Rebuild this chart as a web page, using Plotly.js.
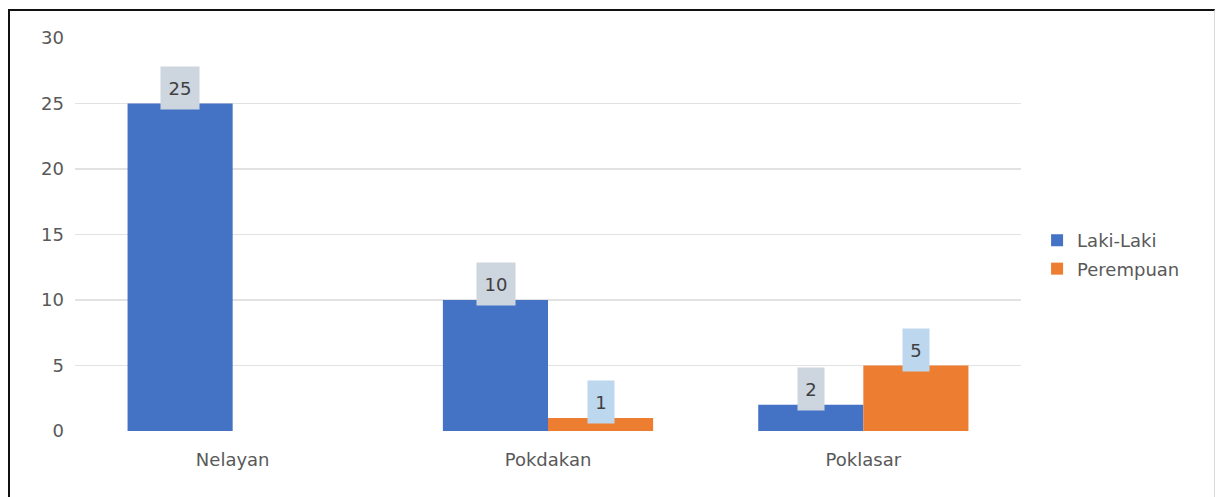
<!DOCTYPE html>
<html>
<head>
<meta charset="utf-8">
<script src="https://cdn.plot.ly/plotly-3.0.1.min.js"></script>
<style>
  html, body { margin: 0; padding: 0; background: #fff; }
  #wrap { position: relative; width: 1216px; height: 497px; overflow: hidden; }
  #frame { position: absolute; left: 8px; top: 9px; width: 1204px; height: 492px;
           border-top: 2px solid #111; border-left: 2px solid #111; border-right: 1px solid #d8d8d8; }
  #chart { position: absolute; left: 0; top: 0; width: 1216px; height: 497px; }
</style>
</head>
<body>
<div id="wrap">
  <div id="frame"></div>
  <div id="chart"></div>
</div>
<script>
const categories = ["Nelayan", "Pokdakan", "Poklasar"];
const lakiLaki = [25, 10, 2];
const perempuan = [null, 1, 5];
const seriesNames = ["Laki-Laki", "Perempuan"];
const yTicks = [0, 5, 10, 15, 20, 25, 30];

const colors = ["#4472C4", "#ED7D31"];
const labelBg = ["#CDD5DF", "#BDD7EE"];
const font = "DejaVu Sans, sans-serif";
const fsize = 18;

const series = [lakiLaki, perempuan];
const traces = series.map((vals, i) => ({
  type: "bar",
  name: seriesNames[i],
  x: categories,
  y: vals,
  marker: { color: colors[i] },
  legendgroup: "g" + i,
  hoverinfo: "x+y+name"
}));

const annotations = [];
series.forEach((vals, i) => {
  vals.forEach((v, j) => {
    if (v === null || v === undefined) return;
    const txt = String(v);
    annotations.push({
      x: categories[j], y: v, xref: "x", yref: "y",
      text: txt, showarrow: false,
      xanchor: "center", yanchor: "bottom",
      xshift: i === 0 ? -52.5 : 52.5,
      yshift: -6,
      width: txt.length > 1 ? 38 : 26,
      height: 42,
      bgcolor: labelBg[i],
      borderpad: 0,
      valign: "middle",
      font: { family: font, size: fsize, color: "#404040" }
    });
  });
});

const layout = {
  width: 1216, height: 497,
  margin: { l: 75, r: 195, t: 38, b: 66 },
  paper_bgcolor: "rgba(0,0,0,0)",
  plot_bgcolor: "rgba(0,0,0,0)",
  barmode: "group",
  bargap: 1/3,
  bargroupgap: 0,
  font: { family: font, size: fsize, color: "#595959" },
  xaxis: {
    type: "category",
    showgrid: false, zeroline: false, showline: false,
    ticks: "", ticklabelstandoff: 16,
    tickfont: { family: font, size: fsize, color: "#595959" }
  },
  yaxis: {
    range: [0, 30],
    tickvals: yTicks,
    ticktext: yTicks.map(String),
    showgrid: true, gridcolor: "#e2e2e2", gridwidth: 1.5,
    zeroline: false, showline: false,
    ticks: "", ticklabelstandoff: 10,
    tickfont: { family: font, size: fsize, color: "#595959" }
  },
  legend: {
    x: 1.017, xanchor: "left",
    y: 0.449, yanchor: "middle",
    traceorder: "grouped",
    tracegroupgap: 2,
    font: { family: font, size: fsize, color: "#595959" },
    itemwidth: 30,
    bgcolor: "rgba(0,0,0,0)"
  },
  annotations: annotations,
  showlegend: true
};

Plotly.newPlot("chart", traces, layout, { displayModeBar: false, staticPlot: true });
</script>
</body>
</html>
